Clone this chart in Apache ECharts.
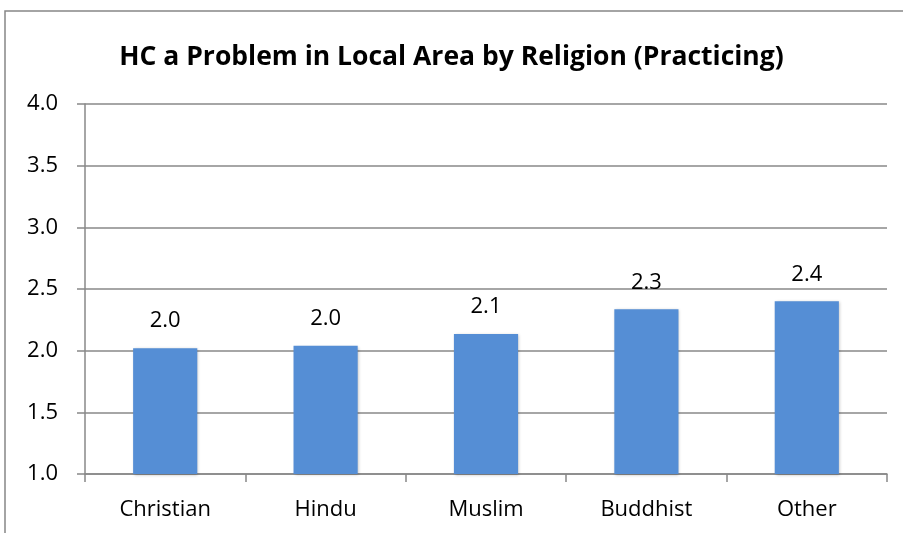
<!DOCTYPE html>
<html><head><meta charset="utf-8">
<script src="https://cdn.jsdelivr.net/npm/echarts@6/dist/echarts.min.js"></script>
<style>html,body{margin:0;padding:0;background:#fff}#c{width:903px;height:533px}</style>
</head><body><div id="c"></div>
<script>
const titleText = "HC a Problem in Local Area by Religion (Practicing)";
const categories = ["Christian", "Hindu", "Muslim", "Buddhist", "Other"];
const values = [2.02, 2.04, 2.135, 2.335, 2.40];
const yTicks = {min: 1.0, max: 4.0, interval: 0.5};

const chart = echarts.init(document.getElementById('c'), null, {renderer: 'canvas'});
const font = '"Open Sans", sans-serif';
chart.setOption({
  animation: false,
  backgroundColor: '#fff',
  graphic: [{
    type: 'rect', shape: {x: 5, y: 11, width: 1000, height: 600},
    style: {fill: 'none', stroke: '#868686', lineWidth: 1.5}, silent: true, z: -1
  }],
  title: {
    text: titleText, left: 'center', top: 39,
    textStyle: {fontFamily: font, fontWeight: 'bold', fontSize: 26.5, color: '#000'}
  },
  grid: {left: 85, right: 16, top: 104, bottom: 59, containLabel: false},
  xAxis: {
    type: 'category', data: categories,
    axisLine: {lineStyle: {color: '#888', width: 1.5}},
    axisTick: {show: true, length: 8, alignWithLabel: false, lineStyle: {color: '#888', width: 1.5}},
    axisLabel: {fontFamily: font, fontSize: 22, color: '#000', margin: 25},
    splitLine: {show: false}
  },
  yAxis: {
    type: 'value', min: yTicks.min, max: yTicks.max, interval: yTicks.interval,
    axisLine: {show: true, lineStyle: {color: '#888', width: 1.5}},
    axisTick: {show: true, length: 8, inside: false, lineStyle: {color: '#888', width: 1.5}},
    axisLabel: {fontFamily: font, fontSize: 22, color: '#000', margin: 27,
      formatter: v => v.toFixed(1)},
    splitLine: {show: true, lineStyle: {color: '#888', width: 1.5}}
  },
  series: [{
    type: 'bar', data: values, barCategoryGap: '60%',
    itemStyle: {color: '#558ED5', shadowColor: 'rgba(0,0,0,0.25)', shadowBlur: 3, shadowOffsetX: 1, shadowOffsetY: 1},
    label: {show: true, position: 'top', distance: 16, fontFamily: font, fontSize: 22, color: '#000',
      formatter: p => p.value.toFixed(1)}
  }]
});
</script></body></html>
